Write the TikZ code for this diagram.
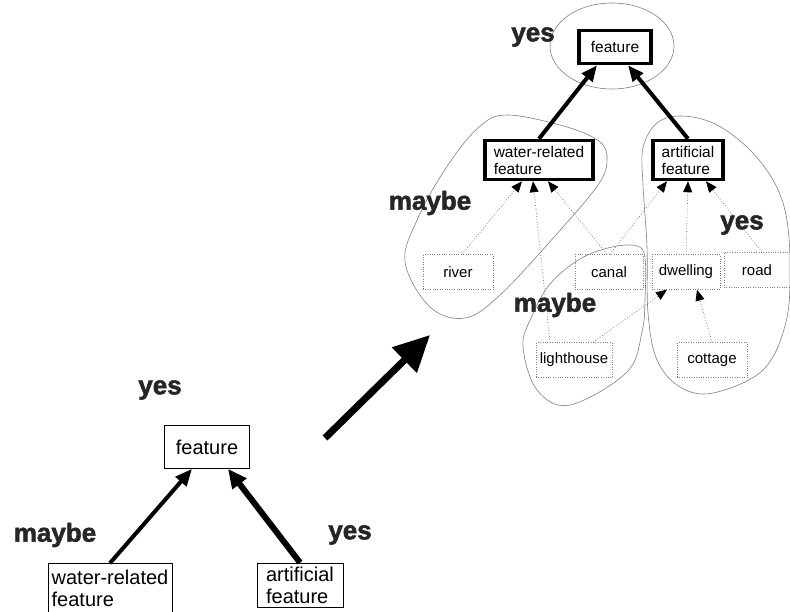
\documentclass[tikz,border=0pt]{standalone}
\usepackage{fontspec}
\setmainfont{Liberation Sans}
\newfontfamily\heavyfont[FakeBold=2]{Liberation Sans Bold}
\usetikzlibrary{arrows.meta}

\begin{document}
\begin{tikzpicture}[x=1pt, y=-1pt,
        tag/.style={font=\heavyfont\fontsize{26}{26}\selectfont, text=black!85},
        thickbox/.style={draw, line width=3.5pt, inner sep=2pt, align=left, font=\fontsize{15.5}{17}\selectfont},
        dotbox/.style={draw, dotted, gray, text=black, minimum width=70pt, minimum height=35pt, font=\fontsize{15}{17}\selectfont},
        plainbox/.style={draw, line width=0.8pt, align=left, inner sep=2pt, font=\fontsize{20}{22}\selectfont},
        loop/.style={draw, gray, line width=0.6pt},
        strong/.style={line width=4pt, -{Triangle[length=16pt, width=13pt]}},
        weak/.style={dotted, gray, line width=0.8pt, -{Triangle[length=11pt, width=9pt, black]}}]
    \useasboundingbox (0, 0) rectangle (790, 612);

    % upper right: the graph after the step
    \draw[loop] (612, 46) ellipse (62 and 43);
    \draw[loop] plot[smooth cycle, tension=0.6] coordinates {(405, 262) (418, 218) (446, 168) (478, 128) (507, 115) (567, 127) (600, 142) (607, 160) (598, 185) (555, 236) (500, 295) (465, 318) (430, 307)};
    \draw[loop] plot[smooth cycle, tension=0.6] coordinates {(580, 259) (612, 247) (637, 246) (645, 258) (645, 300) (642, 332) (627, 372) (570, 405) (537, 390) (523, 347) (531, 318) (550, 284)};
    \draw[loop] plot[smooth cycle, tension=0.6] coordinates {(643, 148) (657, 123) (682, 116) (715, 124) (748, 148) (773, 180) (786, 215) (790, 265) (786, 322) (763, 370) (713, 393) (680, 387) (657, 360) (648, 313) (647, 247) (643, 185)};

    \node[thickbox, minimum width=72pt, minimum height=33pt] (top) at (615, 47) {feature};
    \node[thickbox, minimum width=108pt, minimum height=39pt] (wr) at (539, 160) {water-related\\feature};
    \node[thickbox, minimum width=70pt, minimum height=39pt] (af) at (688, 160) {artificial\\feature};

    \node[dotbox] (river) at (458, 272) {river};
    \node[dotbox, minimum width=68pt] (canal) at (609, 272) {canal};
    \node[dotbox, minimum width=68pt] (dwell) at (686, 272) {dwelling};
    \node[dotbox, minimum width=66pt] (road) at (757, 270) {road};
    \node[dotbox, minimum width=76pt] (light) at (574, 360) {lighthouse};
    \node[dotbox] (cot) at (712, 360) {cottage};

    \draw[strong] (wr.north) -- ([xshift=-18pt]top.south);
    \draw[strong] (af.north) -- ([xshift=13pt]top.south);

    \draw[weak] ([xshift=4pt]river.north) -- ([xshift=-17pt]wr.south);
    \draw[weak] ([xshift=-24pt]light.north) -- ([xshift=-6pt]wr.south);
    \draw[weak] ([xshift=-2pt]canal.north) -- ([xshift=9pt]wr.south);
    \draw[weak] ([xshift=1pt]canal.north) -- ([xshift=-21pt]af.south);
    \draw[weak] (dwell.north) -- (af.south);
    \draw[weak] ([xshift=5pt]road.north) -- ([xshift=18pt]af.south);
    \draw[weak] ([xshift=19pt]light.north) -- ([xshift=-19pt]dwell.south);
    \draw[weak] (cot.north) -- ([xshift=11pt]dwell.south);

    \node[tag] (ytop) at (533, 37) {yes};
    \node[tag] (mwr) at (430, 203) {maybe};
    \node[tag] (ylower) at (555, 305) {maybe};
    \node[tag] (yaf) at (742, 225) {yes};

    % the step
    \coordinate (tail) at (325, 438);
    \coordinate (head) at (430, 335);
    \draw[line width=7pt, -{Triangle[length=36pt, width=34pt]}] (tail) -- (head);

    % lower left: the graph before the step
    \node[plainbox, minimum width=85pt, minimum height=43pt] (bfeat) at (207, 447) {feature};
    \node[plainbox, minimum width=124pt, minimum height=49pt] (bwr) at (110, 588) {water-related\\feature};
    \node[plainbox, minimum width=86pt, minimum height=44pt] (baf) at (300, 585) {artificial\\feature};

    \draw[line width=4pt, -{Triangle[length=17pt, width=14pt]}] (bwr.north) -- ([xshift=-15pt]bfeat.south);
    \draw[line width=6pt, -{Triangle[length=19pt, width=17pt]}] (baf.north) -- ([xshift=21pt]bfeat.south);

    \node[tag] (bytop) at (160, 390) {yes};
    \node[tag] (bm) at (55, 535) {maybe};
    \node[tag] (by) at (350, 535) {yes};
\end{tikzpicture}
\end{document}
